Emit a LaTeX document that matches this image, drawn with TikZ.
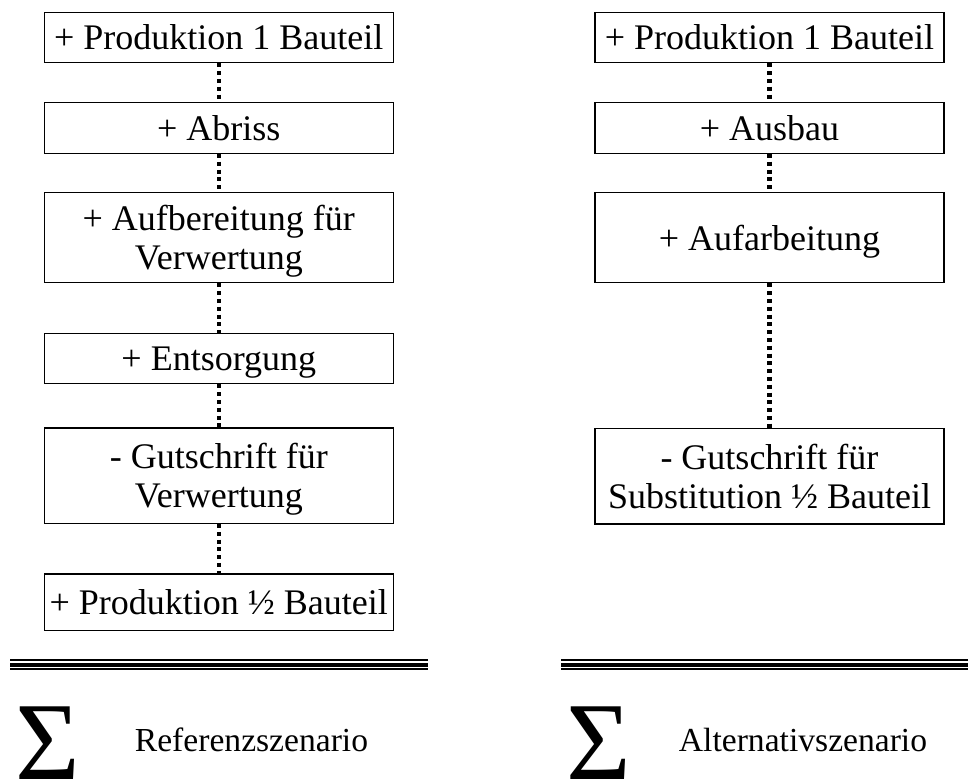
\documentclass[tikz,border=0pt]{standalone}
\usepackage{fontspec}
\setmainfont{Liberation Serif}
\begin{document}
\begin{tikzpicture}[x=1pt,y=-1pt,
  box/.style={draw, line width=1.2pt, minimum width=349pt, inner sep=0pt,
    align=center, text depth=0pt, font=\fontsize{36}{39}\selectfont},
  conn/.style={line width=4.5pt, dash pattern=on 4pt off 3.8pt},
  rule/.style={line width=#1},
  sumsign/.style={anchor=base west, inner sep=0pt, font=\fontsize{111}{111}\selectfont},
  scen/.style={anchor=base, inner sep=0pt, font=\fontsize{33.6}{36}\selectfont}]
\useasboundingbox (0,0) rectangle (968,780);
% left column
\node[box, minimum height=50.4pt] (L1) at (218.8,37.5) {+ Produktion 1 Bauteil};
\node[box, minimum height=51pt] (L2) at (218.8,127.8) {+ Abriss};
\node[box, minimum height=90.4pt] (L3) at (218.8,237.5) {+ Aufbereitung für\\Verwertung};
\node[box, minimum height=50.4pt] (L4) at (218.8,358.5) {+ Entsorgung};
\node[box, minimum height=95.3pt] (L5) at (218.8,475.7) {- Gutschrift für\\Verwertung};
\node[box, minimum height=56.7pt] (L6) at (218.8,602.3) {+ Produktion ½ Bauteil};
% right column
\node[box, minimum height=50.4pt] (R1) at (769.5,37.5) {+ Produktion 1 Bauteil};
\node[box, minimum height=51pt] (R2) at (769.5,127.8) {+ Ausbau};
\node[box, minimum height=90.4pt] (R3) at (769.5,237.5) {+ Aufarbeitung};
\node[box, minimum height=95.7pt] (R4) at (769.5,476.2) {- Gutschrift für\\Substitution ½ Bauteil};
% connectors
\draw[conn] (L1.south) -- (L2.north);
\draw[conn] (L2.south) -- (L3.north);
\draw[conn] (L3.south) -- (L4.north);
\draw[conn] (L4.south) -- (L5.north);
\draw[conn] (L5.south) -- (L6.north);
\draw[conn] (R1.south) -- (R2.north);
\draw[conn] (R2.south) -- (R3.north);
\draw[conn] (R3.south) -- (R4.north);
% triple rules
\draw[rule=1.8pt] (10,659.9) -- (428,659.9);
\draw[rule=4.3pt] (10,664.9) -- (428,664.9);
\draw[rule=1.8pt] (10,669.3) -- (428,669.3);
\draw[rule=1.8pt] (561,659.9) -- (968,659.9);
\draw[rule=4.3pt] (561,664.9) -- (968,664.9);
\draw[rule=1.8pt] (561,669.3) -- (968,669.3);
% sums
\node[sumsign] (sigL) at (15,779) {Σ};
\node[sumsign] (sigR) at (566,779) {Σ};
\node[scen] (refs) at (251.5,751) {Referenzszenario};
\node[scen] (alts) at (803,751) {Alternativszenario};
\end{tikzpicture}
\end{document}
